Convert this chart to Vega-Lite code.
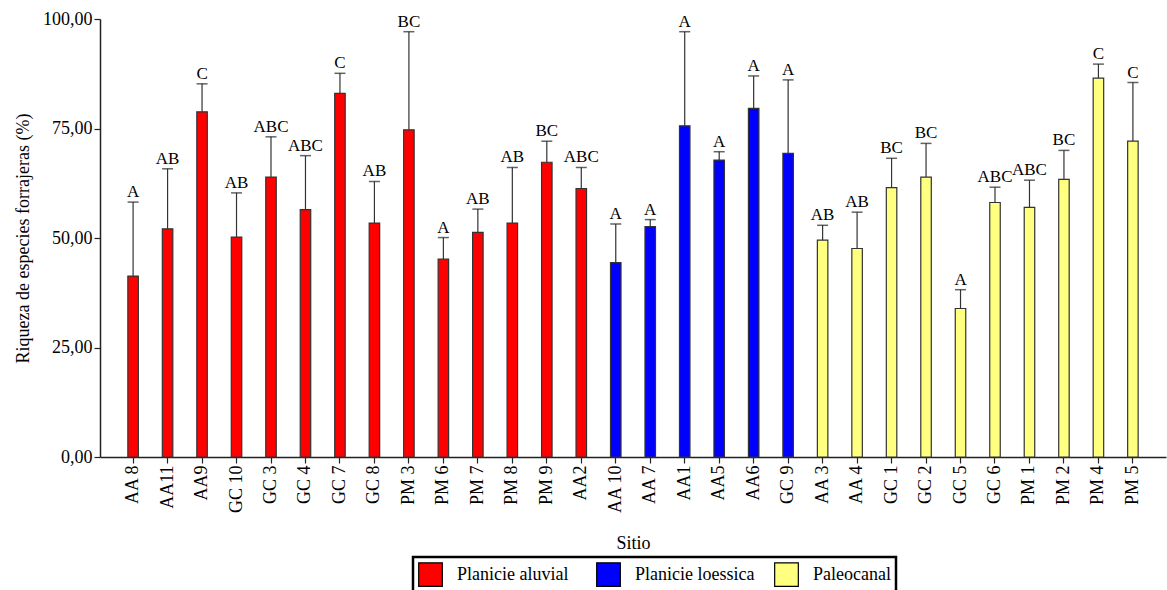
{
  "$schema": "https://vega.github.io/schema/vega-lite/v6.json",
  "width": 1066,
  "height": 438,
  "autosize": {"type": "none"},
  "padding": {"left": 100, "top": 19, "right": 1, "bottom": 133},
  "background": "white",
  "config": {
    "font": "Liberation Serif",
    "view": {"stroke": null},
    "axis": {"grid": false, "domainColor": "#222", "tickColor": "#222", "labelColor": "#000", "titleColor": "#000", "labelFont": "Liberation Serif", "titleFont": "Liberation Serif", "labelFontSize": 18, "titleFontSize": 18, "titleFontWeight": "normal", "domainWidth": 1.5, "tickWidth": 1.2, "tickSize": 6},
    "legend": {"labelFont": "Liberation Serif", "labelFontSize": 18, "labelColor": "#000", "strokeWidth": 2.5}
  },
  "data": {
    "values": [
      {"sitio": "AA 8", "grupo": "Planicie aluvial", "media": 41.3, "sup": 58.2, "letra": "A"},
      {"sitio": "AA11", "grupo": "Planicie aluvial", "media": 52.1, "sup": 65.8, "letra": "AB"},
      {"sitio": "AA9", "grupo": "Planicie aluvial", "media": 78.8, "sup": 85.2, "letra": "C"},
      {"sitio": "GC 10", "grupo": "Planicie aluvial", "media": 50.2, "sup": 60.3, "letra": "AB"},
      {"sitio": "GC 3", "grupo": "Planicie aluvial", "media": 63.9, "sup": 73.1, "letra": "ABC"},
      {"sitio": "GC 4", "grupo": "Planicie aluvial", "media": 56.5, "sup": 68.8, "letra": "ABC"},
      {"sitio": "GC 7", "grupo": "Planicie aluvial", "media": 83.0, "sup": 87.6, "letra": "C"},
      {"sitio": "GC 8", "grupo": "Planicie aluvial", "media": 53.4, "sup": 62.9, "letra": "AB"},
      {"sitio": "PM 3", "grupo": "Planicie aluvial", "media": 74.7, "sup": 97.1, "letra": "BC"},
      {"sitio": "PM 6", "grupo": "Planicie aluvial", "media": 45.2, "sup": 50.1, "letra": "A"},
      {"sitio": "PM 7", "grupo": "Planicie aluvial", "media": 51.3, "sup": 56.6, "letra": "AB"},
      {"sitio": "PM 8", "grupo": "Planicie aluvial", "media": 53.4, "sup": 66.1, "letra": "AB"},
      {"sitio": "PM 9", "grupo": "Planicie aluvial", "media": 67.3, "sup": 72.1, "letra": "BC"},
      {"sitio": "AA2", "grupo": "Planicie aluvial", "media": 61.3, "sup": 66.1, "letra": "ABC"},
      {"sitio": "AA 10", "grupo": "Planicie loessica", "media": 44.4, "sup": 53.2, "letra": "A"},
      {"sitio": "AA 7", "grupo": "Planicie loessica", "media": 52.6, "sup": 54.2, "letra": "A"},
      {"sitio": "AA1", "grupo": "Planicie loessica", "media": 75.6, "sup": 97.1, "letra": "A"},
      {"sitio": "AA5", "grupo": "Planicie loessica", "media": 67.8, "sup": 69.7, "letra": "A"},
      {"sitio": "AA6", "grupo": "Planicie loessica", "media": 79.6, "sup": 87.0, "letra": "A"},
      {"sitio": "GC 9", "grupo": "Planicie loessica", "media": 69.3, "sup": 86.1, "letra": "A"},
      {"sitio": "AA 3", "grupo": "Paleocanal", "media": 49.5, "sup": 52.9, "letra": "AB"},
      {"sitio": "AA 4", "grupo": "Paleocanal", "media": 47.6, "sup": 55.9, "letra": "AB"},
      {"sitio": "GC 1", "grupo": "Paleocanal", "media": 61.5, "sup": 68.2, "letra": "BC"},
      {"sitio": "GC 2", "grupo": "Paleocanal", "media": 63.9, "sup": 71.6, "letra": "BC"},
      {"sitio": "GC 5", "grupo": "Paleocanal", "media": 33.9, "sup": 38.2, "letra": "A"},
      {"sitio": "GC 6", "grupo": "Paleocanal", "media": 58.1, "sup": 61.6, "letra": "ABC"},
      {"sitio": "PM 1", "grupo": "Paleocanal", "media": 57.0, "sup": 63.2, "letra": "ABC"},
      {"sitio": "PM 2", "grupo": "Paleocanal", "media": 63.4, "sup": 70.0, "letra": "BC"},
      {"sitio": "PM 4", "grupo": "Paleocanal", "media": 86.5, "sup": 89.7, "letra": "C"},
      {"sitio": "PM 5", "grupo": "Paleocanal", "media": 72.1, "sup": 85.5, "letra": "C"}
    ]
  },
  "encoding": {
    "x": {
      "field": "sitio", "type": "nominal", "sort": null,
      "scale": {"paddingInner": 0, "paddingOuter": 0.46},
      "axis": {"title": "Sitio", "labelAngle": -90, "labelPadding": 2, "titlePadding": 21, "labelFont": "Liberation Serif", "titleFont": "Liberation Serif", "labelFontSize": 18, "titleFontSize": 18}
    }
  },
  "layer": [
    {
      "mark": {"type": "rule", "color": "#333", "strokeWidth": 1.2},
      "encoding": {
        "y": {"field": "media", "type": "quantitative"},
        "y2": {"field": "sup"}
      }
    },
    {
      "mark": {"type": "tick", "orient": "horizontal", "color": "#222", "size": 11, "thickness": 1.5},
      "encoding": {
        "y": {"field": "sup", "type": "quantitative"}
      }
    },
    {
      "mark": {"type": "bar", "size": 10.5, "stroke": "#333", "strokeWidth": 1.2},
      "encoding": {
        "y": {
          "field": "media", "type": "quantitative",
          "scale": {"domain": [0, 100], "nice": false},
          "axis": {"title": "Riqueza de especies forrajeras (%)", "values": [0, 25, 50, 75, 100], "labelExpr": "replace(format(datum.value, '.2f'), '.', ',')", "labelPadding": 2, "titlePadding": 10, "labelFont": "Liberation Serif", "titleFont": "Liberation Serif", "labelFontSize": 18, "titleFontSize": 18}
        },
        "fill": {
          "field": "grupo", "type": "nominal",
          "scale": {"domain": ["Planicie aluvial", "Planicie loessica", "Paleocanal"], "range": ["#FF0000", "#0000FF", "#FFFF80"]},
          "legend": {
            "title": null, "orient": "none", "direction": "horizontal", "legendX": 313, "legendY": 538,
            "symbolType": "square", "symbolSize": 560, "symbolStrokeColor": "#000", "symbolStrokeWidth": 1.2,
            "labelFont": "Liberation Serif", "labelFontSize": 18,
            "labelOffset": 14, "columnPadding": 17, "gridAlign": "all", "padding": 5,
            "strokeColor": "#000"
          }
        }
      }
    },
    {
      "mark": {"type": "text", "baseline": "alphabetic", "dy": -5, "fontSize": 17, "font": "Liberation Serif", "color": "#000"},
      "encoding": {
        "y": {"field": "sup", "type": "quantitative"},
        "text": {"field": "letra"}
      }
    }
  ]
}
